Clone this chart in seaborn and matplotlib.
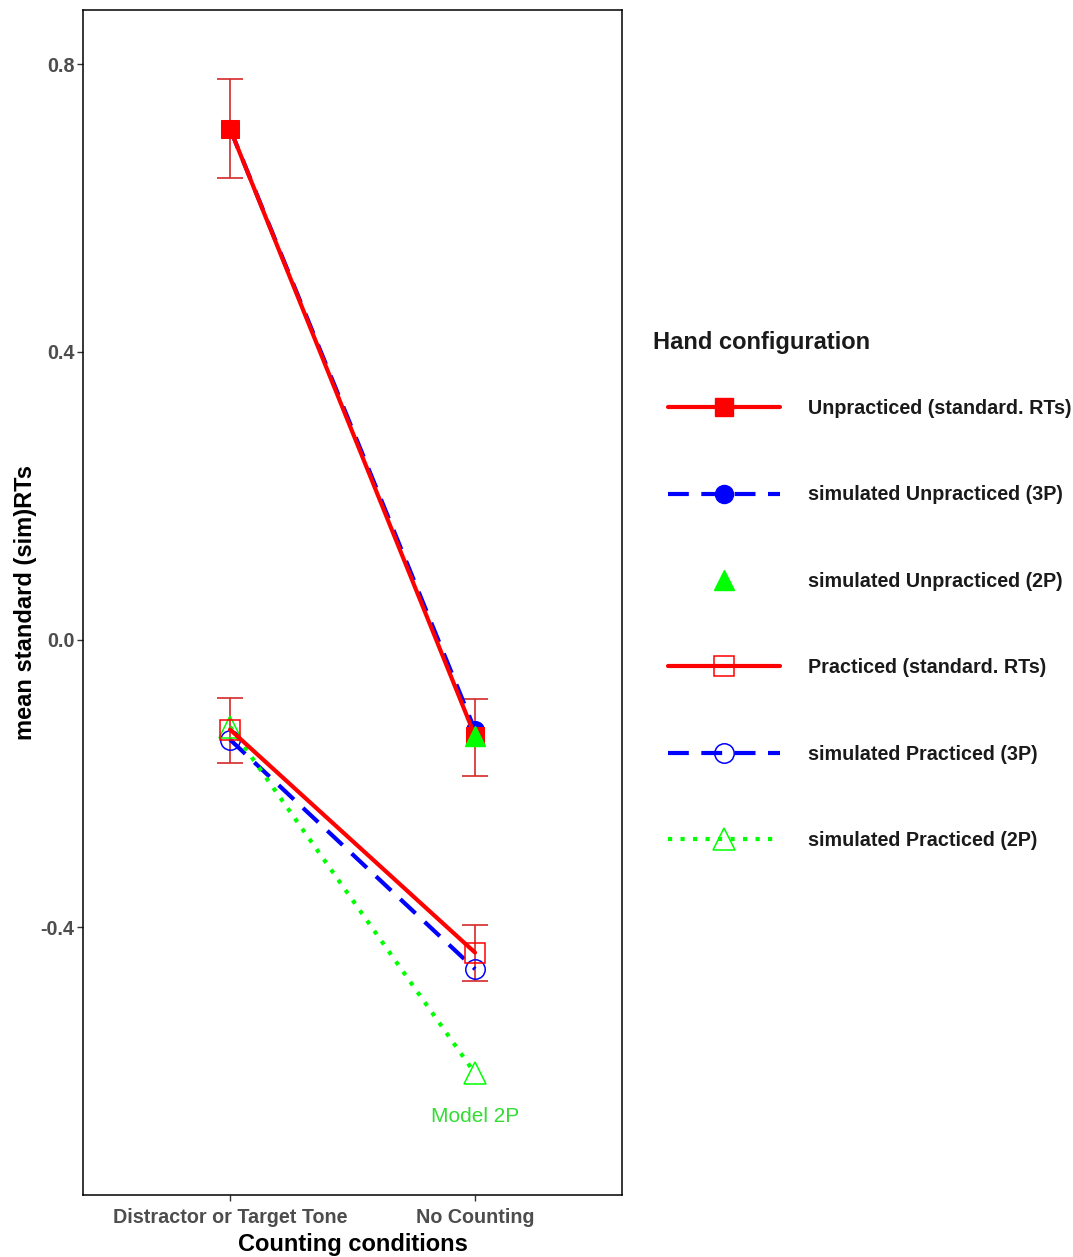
import numpy as np
import matplotlib
matplotlib.use("Agg")
import matplotlib.pyplot as plt
from matplotlib.lines import Line2D
import seaborn as sns

sns.set_theme(style="white")
plt.rcParams['font.family'] = ['Liberation Sans', 'DejaVu Sans']

# Data
categories = ["Distractor or Target Tone", "No Counting"]

unprac_rt = [0.710, -0.134]
unprac_rt_lo = [0.642, -0.190]
unprac_rt_hi = [0.779, -0.082]
sim_unprac_3p = [0.710, -0.126]
sim_unprac_2p = [np.nan, -0.134]

prac_rt = [-0.125, -0.435]
prac_rt_lo = [-0.172, -0.475]
prac_rt_hi = [-0.081, -0.396]
sim_prac_3p = [-0.139, -0.458]
sim_prac_2p = [-0.121, -0.603]

labels = ["Unpracticed (standard. RTs)", "simulated Unpracticed (3P)",
          "simulated Unpracticed (2P)", "Practiced (standard. RTs)",
          "simulated Practiced (3P)", "simulated Practiced (2P)"]

RED = "#ff0000"
BLUE = "#0000ff"
GREEN = "#00ff00"
ERR = "#d42a2a"
DASH = (0, (5, 3))
DOT = (0, (1, 2))
LW = 3.0

x = np.arange(len(categories))

fig = plt.figure(figsize=(10.73, 12.57), dpi=100)
ax = fig.add_axes([0.0774, 0.0493, 0.5023, 0.9427])

# Error bars (standardised RTs only)
for y, lo, hi in [(unprac_rt, unprac_rt_lo, unprac_rt_hi), (prac_rt, prac_rt_lo, prac_rt_hi)]:
    y = np.array(y)
    yerr = [y - np.array(lo), np.array(hi) - y]
    ax.errorbar(x, y, yerr=yerr, fmt="none", ecolor=ERR, elinewidth=1.2,
                capsize=9.4, capthick=1.2, zorder=2)

# Simulated 3P (dashed blue)
sns.lineplot(x=x, y=sim_unprac_3p, ax=ax, color=BLUE, linewidth=LW, linestyle=DASH,
             marker="o", markersize=13, markerfacecolor=BLUE, markeredgecolor=BLUE,
             dash_capstyle="butt", zorder=3)
sns.lineplot(x=x, y=sim_prac_3p, ax=ax, color=BLUE, linewidth=LW, linestyle=DASH,
             marker="o", markersize=14, markerfacecolor="none", markeredgecolor=BLUE,
             markeredgewidth=1.1, dash_capstyle="butt", zorder=3)

# Simulated 2P practiced (dotted green)
sns.lineplot(x=x, y=sim_prac_2p, ax=ax, color=GREEN, linewidth=LW, linestyle=DOT,
             marker="^", markersize=16, markerfacecolor="none", markeredgecolor=GREEN,
             markeredgewidth=1.1, dash_capstyle="butt", zorder=3)

# Standardised RTs (solid red)
sns.lineplot(x=x, y=unprac_rt, ax=ax, color=RED, linewidth=LW, linestyle="-",
             marker="s", markersize=13.5, markerfacecolor=RED, markeredgecolor=RED, zorder=4)
sns.lineplot(x=x, y=prac_rt, ax=ax, color=RED, linewidth=LW, linestyle="-",
             marker="s", markersize=14, markerfacecolor="none", markeredgecolor=RED,
             markeredgewidth=1.1, zorder=4)

# Simulated 2P unpracticed (point only)
ax.plot(x, sim_unprac_2p, linestyle="none", marker="^", markersize=15,
        markerfacecolor=GREEN, markeredgecolor=GREEN, zorder=5)

ax.text(x[1], -0.663, "Model 2P", color="#33dd33", fontsize=15,
        ha="center", va="center")

ax.set_xlim(-0.6, 1.6)
ax.set_ylim(-0.772, 0.875)
ax.set_xticks(x)
ax.set_xticklabels(categories)
ax.set_yticks([-0.4, 0.0, 0.4, 0.8])
ax.set_yticklabels(["-0.4", "0.0", "0.4", "0.8"])
ax.tick_params(axis="both", which="major", direction="out", length=4, width=1,
               color="#333333", labelsize=14.2, labelcolor="#4d4d4d", left=True, bottom=True)
ax.tick_params(axis="x", pad=5)
ax.tick_params(axis="y", pad=2)
for lab in ax.get_xticklabels() + ax.get_yticklabels():
    lab.set_fontweight("bold")
ax.set_xlabel("Counting conditions", fontsize=17, fontweight="bold", color="black", labelpad=5)
ax.set_ylabel("mean standard (sim)RTs", fontsize=17, fontweight="bold", color="black", labelpad=3)
ax.grid(False)
for _, spine in ax.spines.items():
    spine.set_visible(True)
    spine.set_edgecolor("black")
    spine.set_linewidth(1.1)

# Legend
handles = [
    Line2D([], [], color=RED, lw=LW, ls="-", marker="s", ms=13.5, mfc=RED, mec=RED),
    Line2D([], [], color=BLUE, lw=LW, ls=DASH, marker="o", ms=13, mfc=BLUE, mec=BLUE),
    Line2D([], [], color=GREEN, ls="none", marker="^", ms=15, mfc=GREEN, mec=GREEN),
    Line2D([], [], color=RED, lw=LW, ls="-", marker="s", ms=14, mfc="none", mec=RED, mew=1.1),
    Line2D([], [], color=BLUE, lw=LW, ls=DASH, marker="o", ms=14, mfc="none", mec=BLUE, mew=1.1),
    Line2D([], [], color=GREEN, lw=LW, ls=DOT, marker="^", ms=16, mfc="none", mec=GREEN, mew=1.1),
]
leg = fig.legend(handles, labels, loc="upper left", bbox_to_anchor=(668 / 1073, 1 - 399 / 1257),
                 frameon=False, handlelength=5.7, handletextpad=1.42, labelspacing=3.42,
                 borderaxespad=0, borderpad=0,
                 prop={"weight": "bold", "size": 14.2})
for t in leg.get_texts():
    t.set_color("#1a1a1a")
fig.text(653 / 1073, 1 - 343 / 1257, "Hand configuration", fontsize=17, fontweight="bold",
         color="#1a1a1a", ha="left", va="center")

fig.savefig("out.png", dpi=100)
